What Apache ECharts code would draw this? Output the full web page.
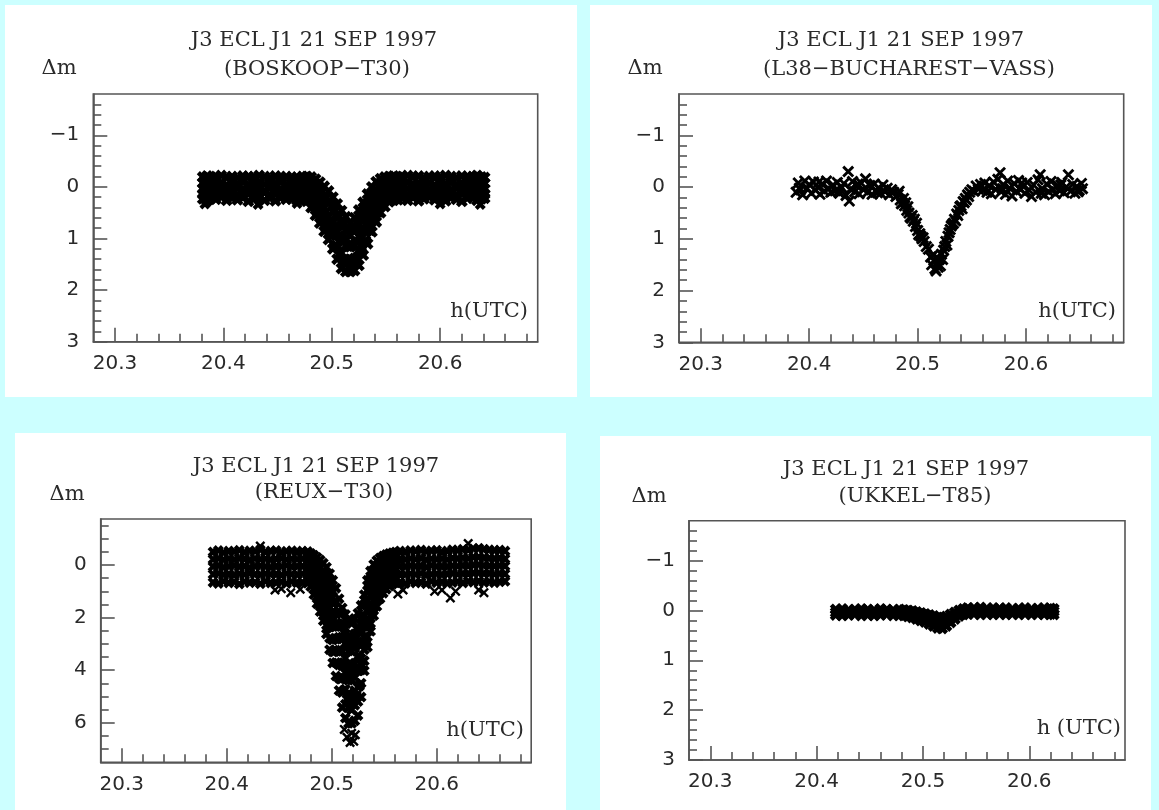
<!DOCTYPE html>
<html><head><meta charset="utf-8">
<script src="https://cdn.jsdelivr.net/npm/echarts@6/dist/echarts.min.js"></script>
<style>html,body{margin:0;padding:0;background:#ccffff;}#c{width:1159px;height:810px;}</style>
</head><body><div id="c"></div>
<script>
// ---------- tick labels ----------
const xMajor = [20.3, 20.4, 20.5, 20.6];
const xMinor = [20.32, 20.34, 20.36, 20.38, 20.42, 20.44, 20.46, 20.48, 20.52, 20.54, 20.56, 20.58, 20.62, 20.64, 20.66, 20.68];
const yMajor = [-1, 0, 1, 2, 3];
const yMinor = [-1.6, -1.4, -1.2, -0.8, -0.6, -0.4, -0.2, 0.2, 0.4, 0.6, 0.8, 1.2, 1.4, 1.6, 1.8, 2.2, 2.4, 2.6, 2.8];
const reuxYMajor = [0, 2, 4, 6];
const reuxYMinor = [-1.5, -1, -0.5, 0.5, 1, 1.5, 2.5, 3, 3.5, 4.5, 5, 5.5, 6.5, 7];

const titleLine = "J3 ECL J1 21 SEP 1997";
const stations = ["(BOSKOOP\u2212T30)", "(L38\u2212BUCHAREST\u2212VASS)", "(REUX\u2212T30)", "(UKKEL\u2212T85)"];
const xNames = ["h(UTC)", "h(UTC)", "h(UTC)", "h (UTC)"];

// ---------- BOSKOOP-T30 ----------
const bosTime = [20.381,20.385,20.389,20.393,20.398,20.403,20.408,20.413,20.418,20.423,20.428,20.433,20.438,20.443,20.448,20.453,20.458,20.463,20.468,20.473,
 20.477,20.481,20.485,20.489,20.493,20.497,20.501,20.505,20.509,20.513,20.517,20.521,20.525,20.529,20.533,20.537,20.541,20.545,20.549,20.553,20.557,20.561,
 20.565,20.570,20.575,20.580,20.585,20.590,20.595,20.600,20.605,20.610,20.615,20.620,20.625,20.630,20.634,20.638,20.641];
const bosTop = [-0.19,-0.21,-0.18,-0.20,-0.22,-0.19,-0.20,-0.18,-0.21,-0.20,-0.19,-0.22,-0.20,-0.18,-0.21,-0.19,-0.20,-0.18,-0.19,-0.20,
 -0.20,-0.19,-0.15,-0.09,-0.01,0.08,0.20,0.33,0.46,0.58,0.70,0.60,0.45,0.30,0.14,0.00,-0.10,-0.16,-0.19,-0.20,-0.21,-0.19,
 -0.20,-0.22,-0.19,-0.21,-0.18,-0.20,-0.21,-0.19,-0.22,-0.20,-0.18,-0.21,-0.19,-0.20,-0.22,-0.19,-0.18];
const bosUpper = [-0.08,-0.05,-0.09,-0.06,-0.07,-0.04,-0.08,-0.06,-0.09,-0.05,-0.07,-0.08,-0.05,-0.07,-0.06,-0.09,-0.05,-0.07,-0.08,-0.06,
 -0.07,-0.04,0.05,0.09,0.23,0.30,0.47,0.58,0.76,0.84,0.95,0.85,0.74,0.55,0.40,0.20,0.12,-0.01,-0.04,-0.08,-0.07,-0.06,
 -0.07,-0.09,-0.05,-0.08,-0.06,-0.07,-0.04,-0.08,-0.06,-0.09,-0.05,-0.07,-0.08,-0.06,-0.05,-0.08,-0.07];
const bosMid = [0.04,0.06,0.02,0.05,0.03,0.07,0.04,0.02,0.05,0.06,0.03,0.04,0.07,0.02,0.05,0.04,0.06,0.03,0.05,0.04,
 0.05,0.12,0.19,0.31,0.40,0.57,0.68,0.88,1.00,1.14,1.16,1.13,0.96,0.83,0.60,0.45,0.27,0.18,0.09,0.06,0.03,0.05,
 0.05,0.03,0.06,0.04,0.02,0.05,0.07,0.03,0.04,0.06,0.02,0.05,0.04,0.06,0.03,0.05,0.04];
const bosLower = [0.14,0.12,0.16,0.13,0.11,0.15,0.14,0.16,0.12,0.14,0.13,0.16,0.11,0.15,0.14,0.12,0.16,0.13,0.15,0.14,
 0.18,0.24,0.37,0.52,0.62,0.80,0.93,1.15,1.28,1.41,1.40,1.39,1.23,1.08,0.84,0.66,0.50,0.32,0.25,0.17,0.15,0.15,
 0.14,0.16,0.12,0.15,0.13,0.16,0.14,0.12,0.15,0.13,0.16,0.14,0.12,0.15,0.13,0.16,0.14];
const bosBottom = [0.23,0.27,0.21,0.24,0.20,0.26,0.22,0.25,0.21,0.28,0.23,0.21,0.26,0.22,0.27,0.21,0.24,0.23,0.26,0.25,
 0.28,0.40,0.55,0.70,0.86,1.02,1.20,1.40,1.58,1.64,1.64,1.62,1.52,1.32,1.10,0.87,0.68,0.50,0.38,0.29,0.26,0.25,
 0.22,0.26,0.21,0.27,0.23,0.20,0.25,0.22,0.27,0.21,0.24,0.28,0.22,0.21,0.26,0.23,0.22];
const bosDipTime = [20.479,20.483,20.487,20.491,20.495,20.499,20.503,20.507,20.511,20.515,20.519,20.523,20.527,20.531,20.535,20.539,20.543,20.547,20.551,20.555,20.559];
const bosDipA = [-0.11,-0.05,0.01,0.08,0.20,0.29,0.45,0.57,0.71,0.80,0.82,0.69,0.56,0.38,0.23,0.08,0.00,-0.08,-0.10,-0.13,-0.12];
const bosDipB = [0.07,0.16,0.24,0.38,0.48,0.64,0.77,0.95,1.06,1.15,1.13,1.06,0.89,0.73,0.52,0.37,0.22,0.14,0.06,0.05,0.03];
const bosDipC = [0.24,0.36,0.51,0.63,0.80,0.94,1.14,1.30,1.44,1.46,1.48,1.39,1.26,1.04,0.84,0.63,0.48,0.33,0.24,0.19,0.18];
const bosOutTime = [20.383, 20.432, 20.468, 20.600, 20.637];
const bosOutMag = [0.33, 0.34, 0.32, 0.33, 0.34];

// ---------- L38-BUCHAREST-VASS ----------
const l38Time = [20.388,20.390,20.392,20.394,20.396,20.398,20.400,20.402,20.404,20.406,
 20.408,20.410,20.412,20.414,20.416,20.418,20.420,20.422,20.424,20.426,
 20.428,20.430,20.432,20.434,20.436,20.437,20.438,20.440,20.442,20.444,
 20.446,20.448,20.450,20.452,20.454,20.456,20.458,20.460,20.462,20.464,
 20.466,20.468,20.470,20.472,20.474,20.476,20.478,20.480,20.482,20.484,
 20.486,20.488,20.490,20.492,20.494,20.496,20.498,20.500,20.502,20.504,
 20.506,20.508,20.512,20.513,20.515,20.516,20.517,20.518,20.519,20.520,
 20.521,20.522,20.524,20.526,20.528,20.530,20.532,20.534,20.536,20.538,
 20.540,20.542,20.544,20.546,20.548,20.550,20.552,20.554,20.556,20.558,
 20.483,20.487,20.491,20.495,20.499,20.503,20.525,20.529,20.533,20.537,
 20.541,20.545,20.560,20.562,20.564,20.566,20.568,20.570,20.572,20.574,
 20.576,20.577,20.579,20.581,20.583,20.585,20.587,20.589,20.591,20.593,
 20.595,20.597,20.599,20.601,20.603,20.605,20.607,20.609,20.611,20.613,
 20.615,20.617,20.619,20.621,20.623,20.625,20.627,20.629,20.631,20.633,
 20.635,20.637,20.639,20.641,20.643,20.645,20.647,20.649,20.651,20.652,
 20.485,20.489,20.493,20.497,20.501,20.505,20.510,20.514,20.523,20.527,
 20.531,20.535,20.539,20.543,20.547,20.391,20.409,20.427,20.445,20.463,
 20.578,20.596,20.614,20.632,20.648];
const l38Mag = [0.10,-0.08,0.05,0.15,-0.12,0.02,-0.05,0.12,-0.10,0.06,
 0.00,0.14,-0.06,0.08,-0.12,0.03,0.10,-0.04,0.07,-0.09,
 0.12,0.01,-0.07,0.16,-0.30,0.27,0.04,-0.11,0.09,-0.02,
 0.13,-0.08,0.05,-0.16,0.10,-0.03,0.14,-0.06,0.07,0.01,
 0.12,-0.04,0.09,0.02,0.15,0.05,0.10,0.18,0.14,0.25,
 0.30,0.36,0.45,0.50,0.60,0.66,0.76,0.84,0.90,1.00,
 1.05,1.15,1.35,1.50,1.42,1.58,1.62,1.48,1.55,1.40,
 1.52,1.30,1.22,1.05,0.95,0.82,0.72,0.62,0.52,0.45,
 0.36,0.28,0.22,0.15,0.10,0.05,0.08,-0.02,0.04,-0.05,
 0.08,0.22,0.38,0.55,0.70,0.95,1.15,0.88,0.70,0.55,
 0.42,0.25,0.06,-0.08,0.10,-0.03,0.13,-0.10,0.04,-0.15,
 -0.28,0.09,-0.05,0.14,-0.12,0.02,0.17,-0.07,0.08,-0.13,
 0.05,-0.02,0.12,-0.09,0.06,0.18,-0.04,0.10,-0.14,-0.24,
 0.03,0.15,-0.06,0.09,-0.11,0.04,0.13,-0.03,0.07,-0.09,
 0.11,0.00,-0.24,0.08,-0.05,0.12,-0.01,0.06,-0.07,0.03,
 0.32,0.30,0.58,0.62,0.92,0.98,1.20,1.32,1.40,1.12,
 0.75,0.65,0.38,0.30,0.18,0.02,-0.10,0.08,-0.06,0.11,
 0.03,-0.08,0.12,-0.04,0.09];

// ---------- REUX-T30 ----------
const reuxTime = [20.387,20.392,20.397,20.402,20.407,20.412,20.417,20.422,20.427,20.432,20.437,20.442,20.447,20.452,20.457,20.462,20.467,20.472,20.477,
 20.480,20.483,20.486,20.489,20.492,20.495,20.498,20.501,20.504,20.507,20.510,20.513,20.516,20.519,20.522,20.525,20.528,20.531,20.534,20.537,20.540,20.543,20.546,20.549,20.552,20.555,20.558,20.561,
 20.565,20.570,20.575,20.580,20.585,20.590,20.595,20.600,20.605,20.610,20.615,20.620,20.625,20.630,20.635,20.640,20.645,20.650,20.655,20.660,20.665];
const reuxTop = [-0.50,-0.55,-0.48,-0.53,-0.51,-0.56,-0.49,-0.54,-0.52,-0.58,-0.50,-0.53,-0.55,-0.49,-0.52,-0.54,-0.50,-0.53,-0.51,
 -0.44,-0.37,-0.29,-0.19,-0.07,0.08,0.33,0.58,0.88,1.28,1.63,1.88,2.13,2.23,2.03,1.83,1.53,1.13,0.58,0.23,-0.02,-0.17,-0.27,-0.34,-0.40,-0.44,-0.47,-0.50,
 -0.53,-0.50,-0.55,-0.52,-0.57,-0.51,-0.54,-0.56,-0.50,-0.53,-0.58,-0.55,-0.60,-0.57,-0.62,-0.64,-0.60,-0.58,-0.55,-0.57,-0.53];
const reuxA = [-0.22,-0.25,-0.20,-0.24,-0.21,-0.26,-0.23,-0.19,-0.25,-0.22,-0.24,-0.20,-0.23,-0.26,-0.21,-0.24,-0.22,-0.25,-0.23,
 -0.06,0.04,0.23,0.35,0.58,0.78,1.19,1.45,1.86,2.25,2.74,2.98,3.27,3.29,3.17,2.91,2.56,1.93,1.34,0.85,0.55,0.30,0.19,0.04,-0.04,-0.11,-0.15,-0.19,
 -0.23,-0.21,-0.25,-0.22,-0.26,-0.20,-0.24,-0.22,-0.25,-0.21,-0.27,-0.24,-0.28,-0.25,-0.30,-0.31,-0.28,-0.26,-0.24,-0.27,-0.23];
const reuxB = [0.06,0.03,0.08,0.05,0.02,0.07,0.04,0.09,0.05,0.03,0.06,0.08,0.04,0.06,0.02,0.07,0.05,0.04,0.06,
 0.30,0.46,0.74,0.91,1.21,1.50,2.01,2.34,2.82,3.24,3.83,4.10,4.38,4.37,4.28,4.02,3.55,2.75,2.06,1.51,1.12,0.79,0.63,0.45,0.37,0.25,0.23,0.15,
 0.05,0.07,0.03,0.06,0.04,0.08,0.02,0.06,0.05,0.07,0.03,0.05,0.01,0.04,0.00,-0.02,0.02,0.03,0.05,0.02,0.04];
const reuxC = [0.35,0.32,0.37,0.34,0.38,0.33,0.36,0.31,0.35,0.37,0.33,0.36,0.34,0.38,0.32,0.35,0.37,0.33,0.36,
 0.62,0.93,1.20,1.51,1.79,2.28,2.78,3.30,3.71,4.30,4.85,5.29,5.43,5.51,5.33,5.19,4.49,3.64,2.73,2.22,1.61,1.35,1.03,0.89,0.71,0.64,0.53,0.52,
 0.34,0.37,0.33,0.36,0.32,0.38,0.35,0.33,0.37,0.34,0.31,0.35,0.32,0.34,0.30,0.29,0.33,0.31,0.35,0.32,0.34];
const reuxBottom = [0.66,0.70,0.62,0.68,0.64,0.72,0.63,0.67,0.65,0.71,0.62,0.68,0.66,0.64,0.70,0.63,0.67,0.65,0.69,
 0.82,1.12,1.47,1.77,2.12,2.62,3.22,3.72,4.22,4.77,5.42,5.82,6.02,6.02,5.92,5.72,5.02,4.02,3.12,2.52,1.92,1.57,1.28,1.07,0.92,0.80,0.72,0.67,
 0.66,0.70,0.63,0.68,0.65,0.71,0.62,0.67,0.64,0.69,0.66,0.63,0.68,0.62,0.65,0.61,0.66,0.63,0.67,0.64,0.62];
const reuxDipTime = [20.480,20.483,20.486,20.489,20.492,20.495,20.498,20.501,20.504,20.507,20.510,20.513,20.516,20.519,20.522,20.525,20.528,20.531,20.534,20.537,20.540,20.543,20.546,20.549,20.552,20.555,20.558,20.561];
const reuxDipE = [-0.24,-0.18,-0.02,0.07,0.26,0.42,0.77,1.00,1.39,1.75,2.20,2.41,2.72,2.74,2.62,2.36,2.06,1.51,0.97,0.53,0.29,0.05,-0.03,-0.16,-0.19,-0.28,-0.28,-0.35];
const reuxDipF = [0.12,0.25,0.48,0.63,0.89,1.14,1.60,1.90,2.34,2.75,3.28,3.54,3.83,3.82,3.73,3.47,3.06,2.34,1.70,1.18,0.84,0.55,0.41,0.24,0.19,0.07,0.06,-0.02];
const reuxDipG = [0.44,0.72,0.95,1.24,1.48,1.92,2.36,2.85,3.24,3.80,4.31,4.72,4.88,4.97,4.78,4.64,3.99,3.22,2.36,1.90,1.34,1.10,0.81,0.69,0.52,0.47,0.36,0.35];
const reuxMidTime = [20.4815,20.4845,20.4875,20.4905,20.4935,20.4965,20.4995,20.5025,20.5055,20.5085,20.5115,20.5145,20.5175,20.5205,20.5235,20.5265,20.5295,20.5325,20.5355,20.5385,20.5415,20.5445,20.5475,20.5505,20.5535,20.5565,20.5595];
const reuxMidH = [-0.09,0.04,0.14,0.33,0.49,0.81,1.08,1.44,1.79,2.25,2.56,2.86,2.98,2.97,2.74,2.49,1.99,1.46,0.90,0.58,0.28,0.15,-0.01,-0.06,-0.17,-0.18,-0.25];
const reuxMidI = [0.30,0.46,0.71,0.89,1.21,1.54,1.98,2.33,2.81,3.26,3.71,3.94,4.12,4.03,3.90,3.51,2.95,2.19,1.63,1.14,0.85,0.58,0.45,0.29,0.24,0.13,0.12];
const reuxMidJ = [0.66,0.97,1.20,1.52,1.84,2.36,2.80,3.30,3.74,4.34,4.77,5.10,5.18,5.17,4.97,4.60,3.82,3.01,2.28,1.79,1.33,1.09,0.84,0.72,0.57,0.52,0.42];
const reuxOutTime = [20.432,20.446,20.452,20.461,20.470,20.512,20.5145,20.5175,20.519,20.521,20.5225,20.563,20.568,20.598,20.605,20.613,20.618,20.630,20.640,20.645];
const reuxOutMag = [-0.72,0.95,0.90,1.05,0.92,6.25,6.55,6.75,6.40,6.70,6.45,1.10,0.95,1.00,0.95,1.25,1.00,-0.82,0.95,1.05];

// ---------- UKKEL-T85 ----------
const ukkTime = [20.418,20.424,20.430,20.436,20.442,20.448,20.454,20.460,20.466,20.472,20.478,
 20.482,20.486,20.490,20.494,20.498,20.502,20.506,20.510,20.514,20.518,20.522,20.526,20.530,20.534,20.538,20.542,
 20.548,20.554,20.560,20.566,20.572,20.578,20.584,20.590,20.596,20.602,20.608,20.614,20.620,20.623];
const ukkTop = [-0.02,-0.03,-0.01,-0.02,-0.03,-0.02,-0.01,-0.03,-0.02,-0.01,-0.02,
 -0.01,0.00,0.01,0.03,0.05,0.07,0.09,0.11,0.14,0.15,0.12,0.08,0.04,0.00,-0.03,-0.05,
 -0.05,-0.06,-0.04,-0.05,-0.04,-0.05,-0.03,-0.04,-0.05,-0.03,-0.04,-0.05,-0.04,-0.03];
const ukkMid = [0.04,0.03,0.04,0.03,0.04,0.04,0.03,0.04,0.03,0.04,0.04,
 0.05,0.06,0.08,0.10,0.12,0.15,0.18,0.21,0.25,0.26,0.22,0.16,0.10,0.06,0.03,0.02,
 0.01,0.01,0.02,0.01,0.02,0.01,0.02,0.02,0.01,0.02,0.01,0.02,0.02,0.02];
const ukkBottom = [0.09,0.10,0.09,0.08,0.10,0.09,0.10,0.09,0.08,0.10,0.09,
 0.10,0.12,0.14,0.17,0.20,0.23,0.27,0.31,0.35,0.36,0.31,0.24,0.17,0.11,0.08,0.07,
 0.07,0.08,0.07,0.08,0.07,0.08,0.07,0.08,0.07,0.08,0.07,0.08,0.07,0.08];

// ---------- layout ----------
const panels = [
  {bg:[5,5,572,392],   grid:{left:93.3, top:94,  width:444.4, height:247.7}, yMin:-1.8,  yMax:3,   yMaj:yMajor,     yMin2:yMinor,
   t1:[314,41], t2:[317,70], dm:[59,69], xn:[528,312]},
  {bg:[590,5,562,392], grid:{left:679,  top:94,  width:444.7, height:248.3}, yMin:-1.8,  yMax:3,   yMaj:yMajor,     yMin2:yMinor,
   t1:[901,41], t2:[909,70], dm:[645,69], xn:[1116,312]},
  {bg:[15,433,551,377],grid:{left:100.7,top:519, width:430.5, height:243.3}, yMin:-1.75, yMax:7.5, yMaj:reuxYMajor, yMin2:reuxYMinor,
   t1:[316,467], t2:[324,493], dm:[67,495], xn:[524,731]},
  {bg:[600,436,551,374],grid:{left:689, top:520.7,width:436, height:239.3}, yMin:-1.8,  yMax:3,   yMaj:yMajor,     yMin2:yMinor,
   t1:[906,470], t2:[915,497], dm:[649,497], xn:[1121,729]}
];

const AX = '#555', LBL = '#2a2a2a';
const crossThick = 'path://M0,2.6L2.6,0L10,7.4L7.4,10ZM7.4,0L10,2.6L2.6,10L0,7.4Z';
const crossThin = 'path://M0,1.7L1.7,0L10,8.3L8.3,10ZM8.3,0L10,1.7L1.7,10L0,8.3Z';
const labelFont = 'DejaVu Sans, Liberation Sans, sans-serif';
const serif = 'DejaVu Serif, Liberation Serif, serif';

const grids = [], xAxes = [], yAxes = [], graphics = [];
panels.forEach((p, i) => {
  grids.push(Object.assign({show:true, borderColor:AX, borderWidth:1.6, backgroundColor:'transparent'}, p.grid));
  xAxes.push({type:'value', gridIndex:i, min:20.28, max:20.69, position:'bottom',
    axisLine:{show:true, onZero:false, lineStyle:{color:AX, width:1.6}},
    axisTick:{show:true, inside:true, length:14, customValues:xMajor, lineStyle:{color:AX, width:1.6}},
    axisLabel:{show:true, customValues:xMajor, margin:12, color:LBL, fontSize:20, fontFamily:labelFont, formatter:v=>Number(v).toFixed(1)},
    splitLine:{show:false}});
  xAxes.push({type:'value', gridIndex:i, min:20.28, max:20.69, position:'bottom',
    axisLine:{show:false, onZero:false},
    axisTick:{show:true, inside:true, length:8, customValues:xMinor, lineStyle:{color:AX, width:1.6}},
    axisLabel:{show:false}, splitLine:{show:false}});
  yAxes.push({type:'value', gridIndex:i, min:p.yMin, max:p.yMax, inverse:true, position:'left',
    axisLine:{show:true, onZero:false, lineStyle:{color:AX, width:1.6}},
    axisTick:{show:true, inside:true, length:14, customValues:p.yMaj, lineStyle:{color:AX, width:1.6}},
    axisLabel:{show:true, customValues:p.yMaj, margin:14, color:LBL, fontSize:20, fontFamily:labelFont, formatter:v=>String(v).replace('-', '\u2212')},
    splitLine:{show:false}});
  yAxes.push({type:'value', gridIndex:i, min:p.yMin, max:p.yMax, inverse:true, position:'left',
    axisLine:{show:false, onZero:false},
    axisTick:{show:true, inside:true, length:8, customValues:p.yMin2, lineStyle:{color:AX, width:1.6}},
    axisLabel:{show:false}, splitLine:{show:false}});
  const b = p.bg;
  graphics.push({type:'rect', z:-10, silent:true, shape:{x:b[0], y:b[1], width:b[2], height:b[3]}, style:{fill:'#ffffff'}});
  const txt = (pos, text, align, size) => ({type:'text', z:10, silent:true, x:pos[0], y:pos[1],
    style:{text:text, fill:LBL, fontSize:size, fontFamily:serif, textAlign:align, textVerticalAlign:'middle', align:align, verticalAlign:'middle'}});
  graphics.push(txt(p.t1, titleLine, 'center', 21));
  graphics.push(txt(p.t2, stations[i], 'center', 21));
  graphics.push(txt(p.dm, '\u0394m', 'center', 21));
  graphics.push(txt(p.xn, xNames[i], 'right', 21));
});

function pairs(ts, ms) { return ts.map((t, k) => [t, ms[k]]); }
function sc(panel, name, ts, ms, size, path) {
  return {type:'scatter', name:name, xAxisIndex:panel*2, yAxisIndex:panel*2, symbol:path || crossThick, symbolSize:size,
    itemStyle:{color:'#000', opacity:1}, data:pairs(ts, ms), silent:true, animation:false};
}
const series = [
  sc(0,'bos1',bosTime,bosTop,12), sc(0,'bos2',bosTime,bosUpper,12), sc(0,'bos3',bosTime,bosMid,12),
  sc(0,'bos4',bosTime,bosLower,12), sc(0,'bos5',bosTime,bosBottom,12), sc(0,'bos6',bosOutTime,bosOutMag,11),
  sc(0,'bos7',bosDipTime,bosDipA,12), sc(0,'bos8',bosDipTime,bosDipB,12), sc(0,'bos9',bosDipTime,bosDipC,12),
  sc(1,'l38',l38Time,l38Mag,12,crossThin),
  sc(2,'r1',reuxTime,reuxTop,11), sc(2,'r2',reuxTime,reuxA,11), sc(2,'r3',reuxTime,reuxB,11), sc(2,'r4',reuxTime,reuxC,11),
  sc(2,'r5',reuxTime,reuxBottom,11), sc(2,'r6',reuxDipTime,reuxDipE,11), sc(2,'r7',reuxDipTime,reuxDipF,11),
  sc(2,'r8',reuxDipTime,reuxDipG,11), sc(2,'r10',reuxMidTime,reuxMidH,11), sc(2,'r11',reuxMidTime,reuxMidI,11),
  sc(2,'r12',reuxMidTime,reuxMidJ,11), sc(2,'r9',reuxOutTime,reuxOutMag,10,crossThin),
  sc(3,'u1',ukkTime,ukkTop,12), sc(3,'u2',ukkTime,ukkMid,12), sc(3,'u3',ukkTime,ukkBottom,12)
];

const chart = echarts.init(document.getElementById('c'), null, {renderer:'canvas'});
chart.setOption({
  backgroundColor:'#ccffff',
  animation:false,
  grid:grids, xAxis:xAxes, yAxis:yAxes,
  graphic:{elements:graphics},
  series:series
});
</script>
</body></html>
